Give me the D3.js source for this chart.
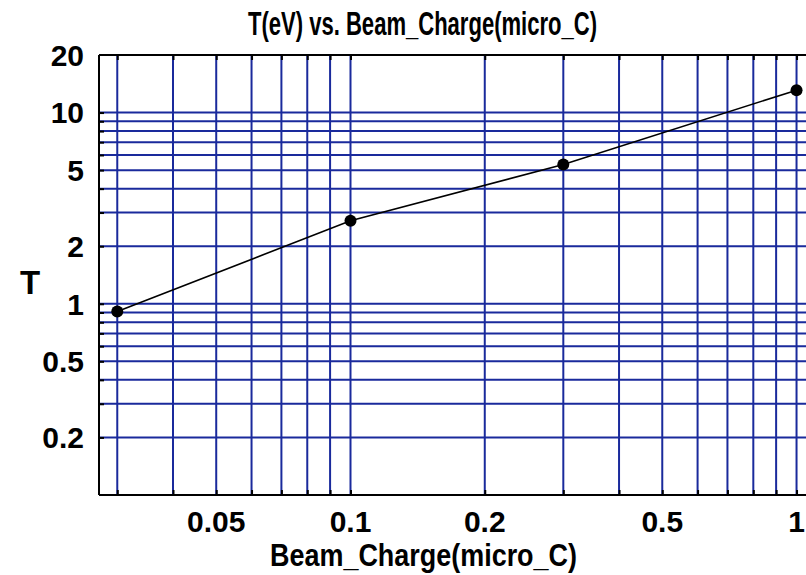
<!DOCTYPE html>
<html>
<head>
<meta charset="utf-8">
<script src="https://cdn.jsdelivr.net/npm/d3@7"></script>
<style>
  html, body { margin: 0; padding: 0; background: #fff; overflow: hidden; }
  svg { display: block; }
  .tick-label { font-family: "Liberation Sans", Arial, sans-serif; font-weight: bold; font-size: 30px; fill: #000; }
  .caption { font-family: "Liberation Sans", Arial, sans-serif; font-weight: bold; font-size: 32px; fill: #000; }
</style>
</head>
<body>
<svg id="chart" width="806" height="575"></svg>
<script>
// values
const charge = [0.03, 0.1, 0.3, 1]
const temperature = [0.91, 2.72, 5.35, 13.1]

const xTickLabels = [0.05, 0.1, 0.2, 0.5, 1]
const yTickLabels = [0.2, 0.5, 1, 2, 5, 10, 20]
const xGrid = [0.03, 0.04, 0.05, 0.06, 0.07, 0.08, 0.09, 0.1, 0.2, 0.3, 0.4, 0.5, 0.6, 0.7, 0.8, 0.9, 1]
const yGrid = [0.2, 0.3, 0.4, 0.5, 0.6, 0.7, 0.8, 0.9, 1, 2, 3, 4, 5, 6, 7, 8, 9, 10]

const xDomain = [0.0273, 1.1]
const yDomain = [0.1, 20]

const svg = d3.select('#chart')
const plotLeft = 99, plotTop = 55, plotBottom = 495, plotRight = 815
const gridColor = '#1a2a9c'

const x = d3.scaleLog().domain(xDomain).range([plotLeft, plotRight])
const y = d3.scaleLog().domain(yDomain).range([plotBottom, plotTop])

const data = charge.map((c, i) => ({ c, t: temperature[i] }))

// grid
const grid = svg.append('g')
grid.selectAll('line.vx')
  .data(xGrid)
  .join('line')
  .attr('class', 'vx')
  .attr('x1', (d) => x(d)).attr('x2', (d) => x(d))
  .attr('y1', plotTop).attr('y2', plotBottom)
  .attr('stroke', gridColor).attr('stroke-width', 2)
grid.selectAll('line.hy')
  .data(yGrid)
  .join('line')
  .attr('class', 'hy')
  .attr('x1', plotLeft).attr('x2', plotRight)
  .attr('y1', (d) => y(d)).attr('y2', (d) => y(d))
  .attr('stroke', gridColor).attr('stroke-width', 2)

// axes frame with small inner ticks
const blackLines = (g) => g.selectAll('line, path').attr('stroke', '#000').attr('stroke-width', 2)

svg.append('g')
  .attr('transform', `translate(${plotLeft},0)`)
  .call(d3.axisLeft(y).tickValues(yGrid).tickSize(-5).tickFormat(''))
  .call(blackLines)
  .call((g) => g.select('.domain').attr('d', `M0,${plotTop}V${plotBottom}`))

svg.append('g')
  .attr('transform', `translate(0,${plotBottom})`)
  .call(d3.axisBottom(x).tickValues(xGrid).tickSize(-5).tickFormat(''))
  .call(blackLines)
  .call((g) => g.select('.domain').attr('d', `M${plotLeft},0H${plotRight}`))

svg.append('g')
  .attr('transform', `translate(0,${plotTop})`)
  .call(d3.axisTop(x).tickValues(xGrid).tickSize(-5).tickFormat(''))
  .call(blackLines)
  .call((g) => g.select('.domain').attr('d', `M${plotLeft},0H${plotRight}`))

// tick labels
svg.append('g')
  .selectAll('text')
  .data(yTickLabels)
  .join('text')
  .attr('class', 'tick-label')
  .attr('x', 84)
  .attr('y', (d) => y(d))
  .attr('dy', '0.36em')
  .attr('text-anchor', 'end')
  .text((d) => d)

svg.append('g')
  .selectAll('text')
  .data(xTickLabels)
  .join('text')
  .attr('class', 'tick-label')
  .attr('x', (d) => x(d))
  .attr('y', 532)
  .attr('text-anchor', 'middle')
  .text((d) => d)

// data line + points
const line = d3.line().x((d) => x(d.c)).y((d) => y(d.t))
svg.append('path')
  .datum(data)
  .attr('d', line)
  .attr('fill', 'none')
  .attr('stroke', '#000')
  .attr('stroke-width', 1.6)

svg.append('g')
  .selectAll('circle')
  .data(data)
  .join('circle')
  .attr('cx', (d) => x(d.c))
  .attr('cy', (d) => y(d.t))
  .attr('r', 6)
  .attr('fill', '#000')

// titles (condensed to match the narrow face of the original)
svg.append('text')
  .attr('class', 'caption')
  .attr('x', 248).attr('y', 35)
  .attr('textLength', 349)
  .attr('lengthAdjust', 'spacingAndGlyphs')
  .style('font-size', '34px')
  .text('T(eV) vs. Beam_Charge(micro_C)')

svg.append('text')
  .attr('class', 'caption')
  .attr('x', 270).attr('y', 566)
  .attr('textLength', 307)
  .attr('lengthAdjust', 'spacingAndGlyphs')
  .text('Beam_Charge(micro_C)')

svg.append('text')
  .attr('class', 'tick-label')
  .attr('x', 30).attr('y', 294)
  .attr('text-anchor', 'middle')
  .style('font-size', '33px')
  .text('T')
</script>
</body>
</html>
